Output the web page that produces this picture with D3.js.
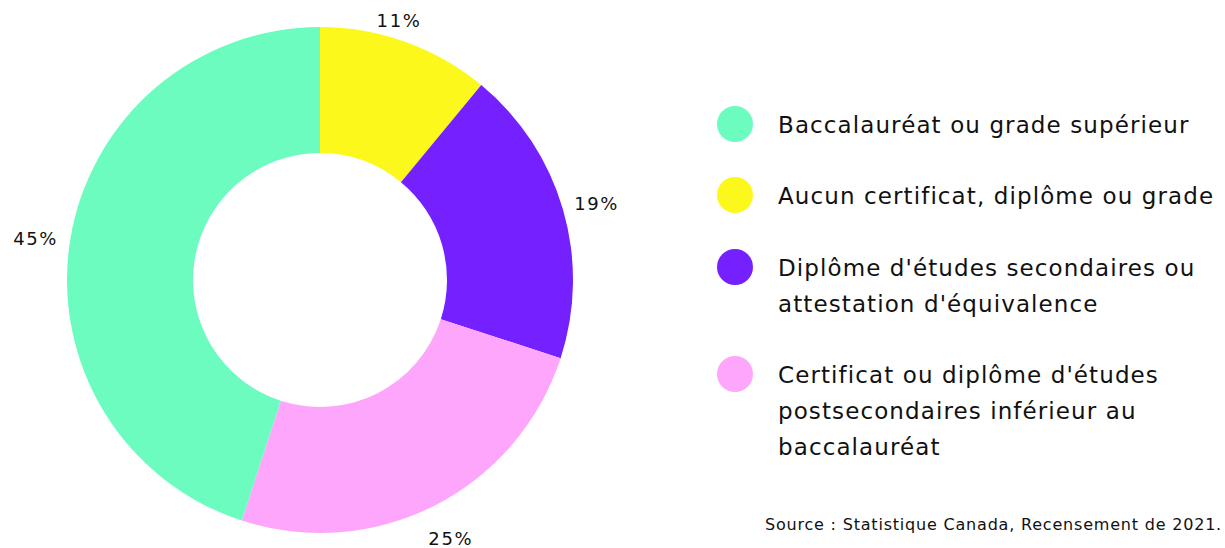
<!DOCTYPE html>
<html><head><meta charset="utf-8">
<script src="https://cdn.jsdelivr.net/npm/d3@7/dist/d3.min.js"></script>
<style>body{margin:0;background:#fff;}svg{display:block;font-family:"DejaVu Sans",Arial,sans-serif;}</style>
</head><body>
<svg id="chart" width="1225" height="548"></svg>
<script>
const categories = ["Aucun certificat, diplôme ou grade","Diplôme d'études secondaires ou attestation d'équivalence","Certificat ou diplôme d'études postsecondaires inférieur au baccalauréat","Baccalauréat ou grade supérieur"];
const values = [11, 19, 25, 45];
const colors = ["#fcf81c", "#7520fe", "#fea6fc", "#6dfcc0"];
const legendOrder = [3, 0, 1, 2];
const legendLines = [["Baccalauréat ou grade supérieur"],["Aucun certificat, diplôme ou grade"],["Diplôme d'études secondaires ou","attestation d'équivalence"],["Certificat ou diplôme d'études","postsecondaires inférieur au","baccalauréat"]];
const sourceText = "Source : Statistique Canada, Recensement de 2021.";

const svg = d3.select("#chart");
const cx = 320, cy = 280, R = 253, r = 127;
const pie = d3.pie().sort(null).value(d => d)(values);
const arc = d3.arc().innerRadius(r).outerRadius(R);
const g = svg.append("g").attr("transform", `translate(${cx},${cy})`);
g.selectAll("path").data(pie).join("path").attr("d", arc).attr("fill", (d,i) => colors[i]);

const labelArc = d3.arc().innerRadius(288).outerRadius(288);
g.selectAll("text.pct").data(pie).join("text").attr("class","pct")
  .each(function(d){
    let [x,y] = labelArc.centroid(d);
    y += 4;
    if (y + cy < 20) { x = x * (cy-20)/(-y) - 16; y = 20 - cy; }
    if (y + cy > 538) { y = 538 - cy; }
    d3.select(this).attr("x", x).attr("y", y);
  })
  .attr("text-anchor","middle").attr("dominant-baseline","central")
  .attr("font-size", 18).attr("fill","#111").attr("letter-spacing", 1.6)
  .text(d => d.data + "%");

const leg = svg.append("g");
const rowY = [125, 196, 268, 375];
legendOrder.forEach((ci, k) => {
  const row = leg.append("g").attr("transform", `translate(0,${rowY[k]})`);
  row.append("circle").attr("cx", 735).attr("cy", -1).attr("r", 18).attr("fill", colors[ci]);
  legendLines[k].forEach((line, j) => {
    row.append("text").attr("x", 778).attr("y", j*36).attr("dominant-baseline","central")
      .attr("font-size", 23).attr("fill","#111").attr("letter-spacing", 1.1).text(line);
  });
});
svg.append("text").attr("x", 1222).attr("y", 524).attr("text-anchor","end").attr("dominant-baseline","central")
  .attr("font-size", 16).attr("fill","#111").attr("letter-spacing", 0.8).text(sourceText);
</script>
</body></html>
